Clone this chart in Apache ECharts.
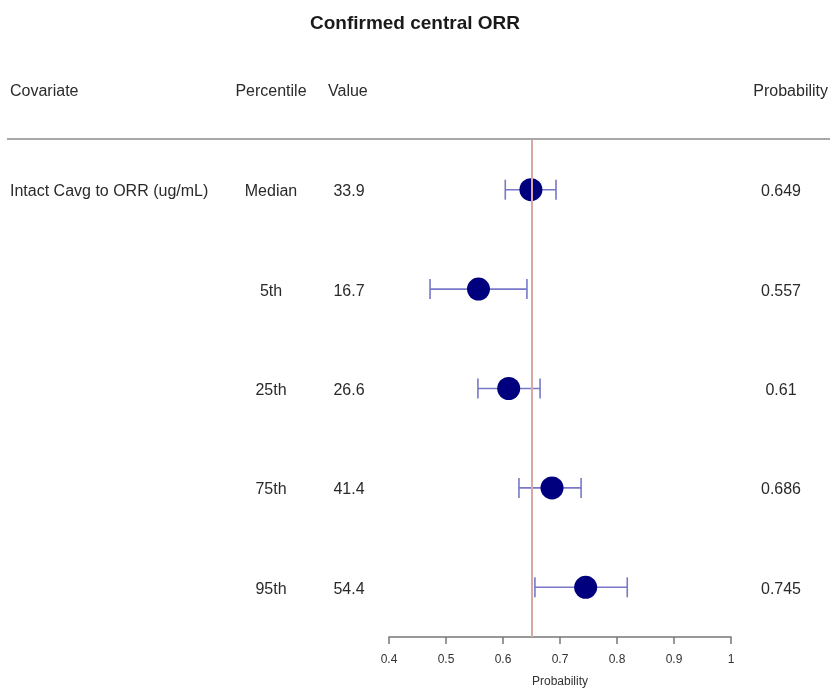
<!DOCTYPE html>
<html>
<head>
<meta charset="utf-8">
<script src="https://cdn.jsdelivr.net/npm/echarts@6/dist/echarts.min.js"></script>
<style>
  html, body { margin: 0; padding: 0; background: #fff; }
  #chart { width: 830px; height: 693px; }
</style>
</head>
<body>
<div id="chart"></div>
<script>
// Forest plot rows
var covariate = 'Intact Cavg to ORR (ug/mL)';
var percentiles = ['Median', '5th', '25th', '75th', '95th'];
var values = ['33.9', '16.7', '26.6', '41.4', '54.4'];
var probability = [0.649, 0.557, 0.61, 0.686, 0.745];
var lower = [0.604, 0.472, 0.556, 0.628, 0.656];
var upper = [0.693, 0.642, 0.665, 0.737, 0.818];
var referenceValue = 0.649;
var xTicks = [0.4, 0.5, 0.6, 0.7, 0.8, 0.9, 1];

var FONT = 'Arial, "Liberation Sans", sans-serif';
var BODY = '16px ' + FONT;
var TEXT_COLOR = '#2a2a2a';
var chart = echarts.init(document.getElementById('chart'));

var rowIdx = percentiles.map(function (_, i) { return i; });

function headerText(x, text, align) {
  return {
    type: 'text', x: x, y: 92,
    style: { text: text, font: BODY, fill: TEXT_COLOR, align: align, verticalAlign: 'middle' }
  };
}

chart.setOption({
  backgroundColor: '#fff',
  animation: false,
  title: {
    text: 'Confirmed central ORR',
    left: 'center',
    top: 9,
    textStyle: { fontFamily: FONT, fontSize: 19, fontWeight: 'bold', color: '#1a1a1a' }
  },
  grid: { left: 389, right: 99, top: 140, bottom: 53 },
  xAxis: {
    type: 'value',
    min: xTicks[0],
    max: xTicks[xTicks.length - 1],
    interval: 0.1,
    name: 'Probability',
    nameLocation: 'middle',
    nameGap: 39,
    nameTextStyle: { fontFamily: FONT, fontSize: 12, color: '#333' },
    axisLine: { show: true, onZero: false, lineStyle: { color: '#777', width: 1.5 } },
    axisTick: { show: true, length: 7, lineStyle: { color: '#777', width: 1.5 } },
    axisLabel: {
      margin: 17, fontFamily: FONT, fontSize: 12, color: '#333',
      formatter: function (v) { return String(Math.round(v * 10) / 10); }
    },
    splitLine: { show: false }
  },
  yAxis: {
    type: 'value', min: -0.5, max: percentiles.length - 0.5, inverse: true,
    show: false, splitLine: { show: false }
  },
  graphic: [
    { type: 'line', shape: { x1: 7, y1: 139, x2: 830, y2: 139 }, style: { stroke: '#a8a8a8', lineWidth: 2 } },
    headerText(10, 'Covariate', 'left'),
    headerText(271, 'Percentile', 'center'),
    headerText(328, 'Value', 'left'),
    headerText(828, 'Probability', 'right')
  ],
  series: [
    {
      // table text columns, one row per percentile
      type: 'custom',
      silent: true,
      data: rowIdx.map(function (i) { return [i]; }),
      renderItem: function (params, api) {
        var i = api.value(0);
        var y = api.coord([referenceValue, i])[1] + 2;
        var children = [];
        function txt(x, s, align) {
          children.push({ type: 'text', style: { x: x, y: y, text: s, font: BODY, fill: TEXT_COLOR, align: align, verticalAlign: 'middle' } });
        }
        if (i === 0) txt(10, covariate, 'left');
        txt(271, percentiles[i], 'center');
        txt(349, values[i], 'center');
        txt(781, String(probability[i]), 'center');
        return { type: 'group', children: children };
      },
      clip: false,
      z: 1
    },
    {
      // confidence interval whiskers
      type: 'custom',
      data: rowIdx.map(function (i) { return [lower[i], upper[i], i]; }),
      renderItem: function (params, api) {
        var p1 = api.coord([api.value(0), api.value(2)]);
        var p2 = api.coord([api.value(1), api.value(2)]);
        var h = 10;
        var st = { stroke: '#7878c8', lineWidth: 1.6 };
        return {
          type: 'group',
          children: [
            { type: 'line', shape: { x1: p1[0], y1: p1[1], x2: p2[0], y2: p2[1] }, style: st },
            { type: 'line', shape: { x1: p1[0], y1: p1[1] - h, x2: p1[0], y2: p1[1] + h }, style: st },
            { type: 'line', shape: { x1: p2[0], y1: p2[1] - h, x2: p2[0], y2: p2[1] + h }, style: st }
          ]
        };
      },
      z: 2
    },
    {
      type: 'scatter',
      data: rowIdx.map(function (i) { return [probability[i], i]; }),
      symbol: 'circle',
      symbolSize: 23,
      itemStyle: { color: '#00007f', opacity: 1 },
      markLine: {
        silent: true,
        symbol: 'none',
        label: { show: false },
        lineStyle: { color: '#d8a8a4', width: 2, type: 'solid' },
        data: [{ xAxis: referenceValue }]
      },
      z: 3
    }
  ]
});
</script>
</body>
</html>
